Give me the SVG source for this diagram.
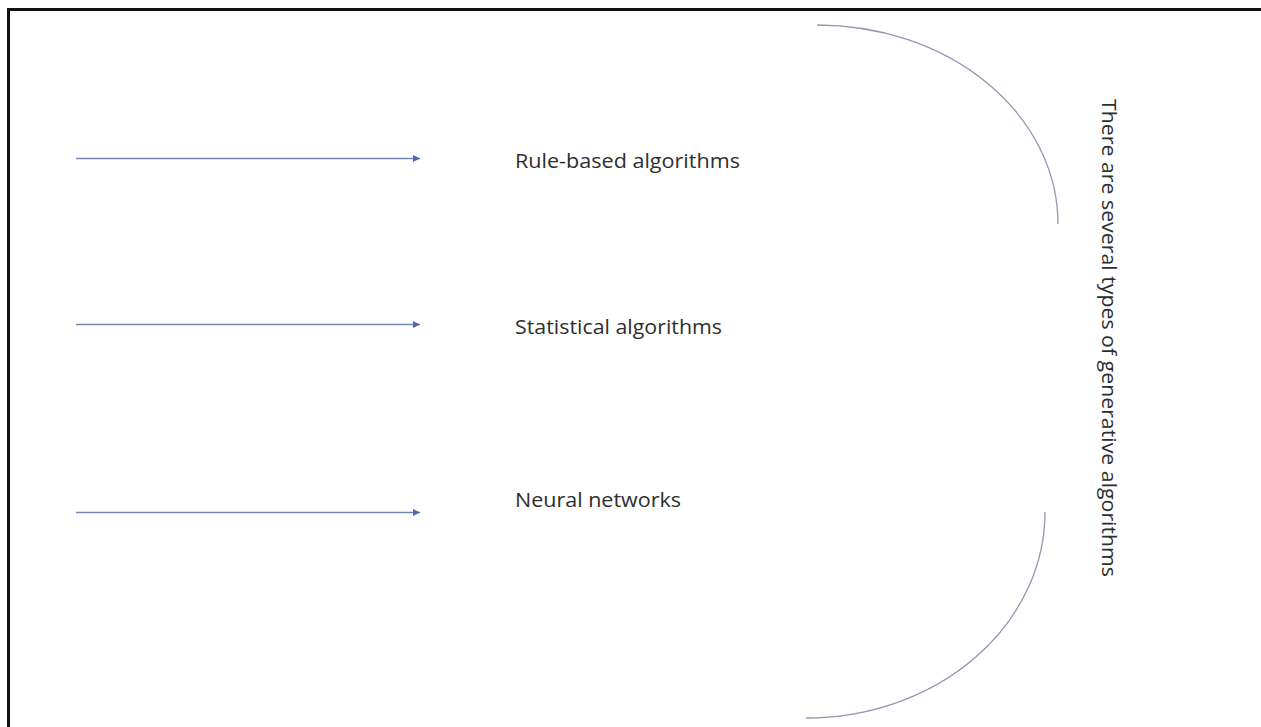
<svg xmlns="http://www.w3.org/2000/svg" width="1261" height="727" viewBox="0 0 1261 727">
<style>
.lbl{font-family:"Open Sans","Liberation Sans",sans-serif;font-size:20px;fill:#2e2e2e}
.conn{stroke:#7486ad;stroke-width:1.3;fill:none}
.arc{stroke:#8e98b0;stroke-width:1.3;fill:none}
</style>
<defs>
<marker id="ah" viewBox="0 0 10 10" refX="10" refY="5" markerWidth="8" markerHeight="7" markerUnits="userSpaceOnUse" orient="auto">
<path d="M0,0 L10,5 L0,10 Z" fill="#4a67b8"/>
</marker>
</defs>
<rect width="1261" height="727" fill="#fff"/>
<path d="M8.5,727 V9.5 H1261" fill="none" stroke="#111" stroke-width="3"/>
<g id="connectors">
<line class="conn" x1="76" y1="158.5" x2="420" y2="158.5" marker-end="url(#ah)"/>
<line class="conn" x1="76" y1="324.5" x2="420" y2="324.5" marker-end="url(#ah)"/>
<line class="conn" x1="76" y1="512.5" x2="420" y2="512.5" marker-end="url(#ah)"/>
<path class="arc" d="M817,25 A241,199 0 0 1 1058,224"/>
<path class="arc" d="M1045,512 A239,206 0 0 1 806,718"/>
</g>
<g id="node-rule"><text class="lbl" x="515" y="168" textLength="225" lengthAdjust="spacingAndGlyphs">Rule-based algorithms</text></g>
<g id="node-stat"><text class="lbl" x="515" y="334" textLength="207" lengthAdjust="spacingAndGlyphs">Statistical algorithms</text></g>
<g id="node-neural"><text class="lbl" x="515" y="507" textLength="166" lengthAdjust="spacingAndGlyphs">Neural networks</text></g>
<g id="node-title"><text class="lbl" transform="translate(1102,99) rotate(90)" x="0" y="0" textLength="478" lengthAdjust="spacingAndGlyphs">There are several types of generative algorithms</text></g>
</svg>
